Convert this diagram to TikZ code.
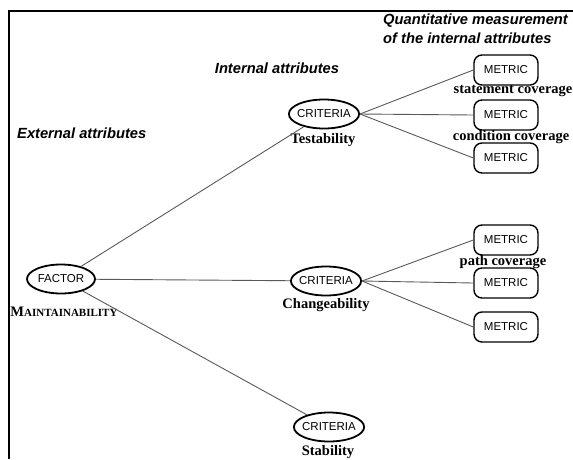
\documentclass[tikz,border=0pt]{standalone}
\usepackage{fontspec}
\setmainfont{Liberation Serif}
\setsansfont{Liberation Sans}
\usetikzlibrary{positioning, shapes.geometric}

\begin{document}
\begin{tikzpicture}[x=1pt, y=-1pt,
    crit/.style={draw, ellipse, line width=1.8pt, minimum width=68pt, minimum height=29pt, inner xsep=-2pt, inner ysep=0pt, font=\sffamily\fontsize{11.5}{12}\selectfont},
    metric/.style={draw, rounded corners=8pt, line width=1.4pt, minimum width=64pt, minimum height=30pt, inner sep=0pt, font=\sffamily\fontsize{11.5}{12}\selectfont},
    lbl/.style={font=\bfseries\fontsize{14.5}{15}\selectfont, inner sep=0pt},
    head/.style={font=\sffamily\bfseries\itshape\fontsize{14.7}{19}\selectfont, align=left, inner sep=0pt},
    link/.style={draw=black!65, line width=0.9pt}]
    \useasboundingbox (0,0) rectangle (573,459);
    \draw[line width=1.5pt] (573,11) -- (9,11) -- (9,459);

    \node[head, anchor=west] (quant) at (383,29) {Quantitative measurement\\of the internal attributes};
    \node[head] (intern) at (277,68) {Internal attributes};
    \node[head, anchor=west] (extern) at (17,133) {External attributes};

    \node[crit] (factor) at (61,279) {FACTOR};
    \node[lbl] (maint) at (64,312) {{\fontsize{14.5}{15}\selectfont M}{\fontsize{11}{11}\selectfont AINTAINABILITY}};

    \node[crit] (test) at (324,114) {CRITERIA};
    \node[lbl] (testlbl) at (323,140) {Testability};
    \node[crit] (change) at (326,281) {CRITERIA};
    \node[lbl] (changelbl) at (326,305) {Changeability};
    \node[crit] (stab) at (329,427) {CRITERIA};
    \node[lbl] (stablbl) at (328,452) {Stability};

    \node[metric] (m1) at (506,70) {METRIC};
    \node[lbl] (stmt) at (513,91) {statement coverage};
    \node[metric] (m2) at (506,115) {METRIC};
    \node[lbl] (cond) at (511,137) {condition coverage};
    \node[metric] (m3) at (506,158) {METRIC};
    \node[metric] (m4) at (506,240) {METRIC};
    \node[lbl] (path) at (503,262) {path coverage};
    \node[metric] (m5) at (506,283) {METRIC};
    \node[metric] (m6) at (506,327) {METRIC};

    \path[link] (factor) -- (test);
    \path[link] (factor) -- (change);
    \path[link] (factor) -- (stab);
    \path[link] (test.east) -- (m1.west);
    \path[link] (test.east) -- (m2.west);
    \path[link] (test.east) -- (m3.west);
    \path[link] (change.east) -- (m4.west);
    \path[link] (change.east) -- (m5.west);
    \path[link] (change.east) -- (m6.west);
\end{tikzpicture}
\end{document}
